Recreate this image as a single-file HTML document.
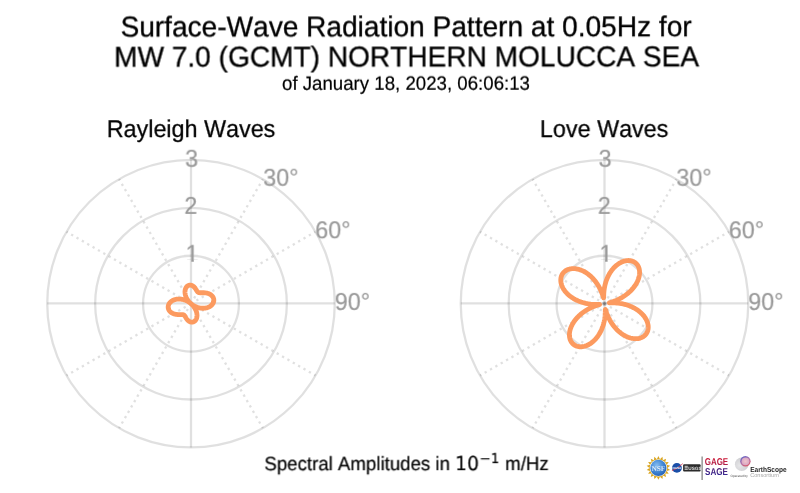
<!DOCTYPE html>
<html lang="en">
<head>
<meta charset="utf-8">
<title>Surface-Wave Radiation Pattern</title>
<style>
html,body{margin:0;padding:0;background:#fff;}
body{width:800px;height:493px;overflow:hidden;}
svg{display:block;}
text{font-family:"Liberation Sans",Arial,Helvetica,sans-serif;font-kerning:none;text-rendering:geometricPrecision;}
.title{font-size:28.085px;fill:#000;stroke:#000;stroke-width:0.3px;}
.sub{font-size:18.67px;fill:#000;stroke:#000;stroke-width:0.2px;}
.facet{font-size:23.33px;fill:#000;stroke:#000;stroke-width:0.25px;}
.tick text{font-size:23.33px;stroke:#999999;stroke-width:0.2px;}
.math{font-family:"DejaVu Sans",sans-serif;}
.title,.sub,.facet,.tick text{filter:blur(0.3px);}
#logos{filter:blur(0.4px);}
</style>
</head>
<body>
<svg width="800" height="493" viewBox="0 0 800 493">
<rect width="800" height="493" fill="#fff"/>
<text class="title" transform="translate(406.10,36.35) rotate(-0.03) scale(1,1.02)" text-anchor="middle">Surface-Wave Radiation Pattern at 0.05Hz for</text>
<text class="title" transform="translate(406.60,66.45) rotate(-0.03) scale(1,1.02)" text-anchor="middle">MW 7.0 (GCMT) NORTHERN MOLUCCA SEA</text>
<text class="sub" transform="translate(406.00,89.80) rotate(-0.03) scale(1,1.04)" text-anchor="middle">of January 18, 2023, 06:06:13</text>
<text class="facet" transform="translate(191.10,137.00) rotate(-0.03) scale(1,1.04)" text-anchor="middle">Rayleigh Waves</text>
<text class="facet" transform="translate(604.20,137.00) rotate(-0.03) scale(1,1.04)" text-anchor="middle">Love Waves</text>
<g fill="none" stroke="#000" stroke-opacity="0.12" stroke-width="2.3">
<circle cx="191.0" cy="303.65" r="47.92"/>
<circle cx="191.0" cy="303.65" r="95.83"/>
<circle cx="191.0" cy="303.65" r="143.75"/>
<line x1="191.0" y1="159.90" x2="191.0" y2="447.40"/>
<line x1="47.25" y1="303.40" x2="334.75" y2="303.40"/>
</g>
<g fill="none" stroke="#000" stroke-opacity="0.12" stroke-width="2.33" stroke-dasharray="2.33 3.855">
<line x1="191.0" y1="303.65" x2="262.88" y2="179.16"/>
<line x1="191.0" y1="303.65" x2="315.49" y2="231.77"/>
<line x1="191.0" y1="303.65" x2="315.49" y2="375.52"/>
<line x1="191.0" y1="303.65" x2="262.88" y2="428.14"/>
<line x1="191.0" y1="303.65" x2="119.12" y2="428.14"/>
<line x1="191.0" y1="303.65" x2="66.51" y2="375.53"/>
<line x1="191.0" y1="303.65" x2="66.51" y2="231.77"/>
<line x1="191.0" y1="303.65" x2="119.12" y2="179.16"/>
</g>
<path d="M191.00,285.23 L191.32,285.30 L191.64,285.39 L191.95,285.51 L192.26,285.65 L192.56,285.80 L192.86,285.98 L193.15,286.17 L193.43,286.38 L193.70,286.60 L193.96,286.83 L194.22,287.08 L194.47,287.34 L194.70,287.61 L194.93,287.89 L195.15,288.17 L195.36,288.46 L195.55,288.75 L195.75,289.04 L195.93,289.34 L196.11,289.62 L196.28,289.91 L196.44,290.19 L196.60,290.45 L196.76,290.71 L196.92,290.96 L197.07,291.20 L197.23,291.42 L197.39,291.62 L197.56,291.81 L197.74,291.98 L197.92,292.14 L198.11,292.27 L198.31,292.39 L198.53,292.49 L198.76,292.57 L199.00,292.63 L199.26,292.68 L199.54,292.72 L199.83,292.74 L200.14,292.76 L200.46,292.76 L200.80,292.76 L201.16,292.76 L201.53,292.75 L201.91,292.74 L202.30,292.73 L202.71,292.73 L203.13,292.73 L203.56,292.74 L203.99,292.75 L204.43,292.77 L204.88,292.81 L205.33,292.85 L205.78,292.91 L206.23,292.99 L206.68,293.07 L207.13,293.17 L207.58,293.29 L208.02,293.43 L208.45,293.58 L208.88,293.74 L209.29,293.92 L209.70,294.12 L210.09,294.34 L210.47,294.57 L210.83,294.82 L211.18,295.08 L211.51,295.36 L211.82,295.66 L212.12,295.96 L212.39,296.28 L212.64,296.62 L212.87,296.96 L213.08,297.32 L213.26,297.68 L213.42,298.06 L213.55,298.44 L213.66,298.83 L213.74,299.23 L213.80,299.63 L213.82,300.04 L213.82,300.44 L213.79,300.85 L213.74,301.26 L213.65,301.67 L213.54,302.07 L213.40,302.48 L213.24,302.87 L213.04,303.27 L212.82,303.65 L212.57,304.03 L212.29,304.39 L211.99,304.75 L211.66,305.09 L211.31,305.43 L210.93,305.75 L210.53,306.05 L210.11,306.34 L209.66,306.61 L209.20,306.86 L208.71,307.09 L208.21,307.31 L207.68,307.50 L207.14,307.67 L206.59,307.83 L206.01,307.96 L205.43,308.06 L204.83,308.14 L204.23,308.20 L203.61,308.24 L202.98,308.25 L202.35,308.24 L201.71,308.20 L201.07,308.13 L200.43,308.05 L199.78,307.93 L199.13,307.79 L198.49,307.63 L197.84,307.44 L197.20,307.23 L196.57,306.99 L195.94,306.74 L195.32,306.45 L194.71,306.15 L194.11,305.82 L193.52,305.48 L192.94,305.11 L192.38,304.73 L191.83,304.32 L191.30,303.90 L191.24,303.86 L191.73,304.30 L192.20,304.77 L192.66,305.26 L193.10,305.75 L193.52,306.26 L193.92,306.78 L194.29,307.31 L194.64,307.84 L194.97,308.38 L195.27,308.93 L195.55,309.48 L195.81,310.03 L196.04,310.59 L196.25,311.14 L196.43,311.70 L196.58,312.25 L196.71,312.79 L196.82,313.33 L196.90,313.87 L196.96,314.40 L196.99,314.92 L197.00,315.42 L196.99,315.92 L196.95,316.41 L196.89,316.88 L196.81,317.33 L196.71,317.77 L196.58,318.20 L196.44,318.60 L196.28,318.99 L196.10,319.36 L195.91,319.70 L195.70,320.03 L195.47,320.34 L195.23,320.62 L194.98,320.88 L194.71,321.11 L194.44,321.33 L194.15,321.52 L193.86,321.68 L193.55,321.82 L193.25,321.94 L192.93,322.03 L192.61,322.10 L192.29,322.14 L191.97,322.16 L191.65,322.15 L191.32,322.13 L191.00,322.07 L190.68,322.00 L190.36,321.91 L190.05,321.79 L189.74,321.65 L189.44,321.50 L189.14,321.32 L188.85,321.13 L188.57,320.92 L188.30,320.70 L188.04,320.47 L187.78,320.22 L187.53,319.96 L187.30,319.69 L187.07,319.41 L186.85,319.13 L186.64,318.84 L186.45,318.55 L186.25,318.26 L186.07,317.96 L185.89,317.68 L185.72,317.39 L185.56,317.11 L185.40,316.85 L185.24,316.59 L185.08,316.34 L184.93,316.10 L184.77,315.88 L184.61,315.68 L184.44,315.49 L184.26,315.32 L184.08,315.16 L183.89,315.03 L183.69,314.91 L183.47,314.81 L183.24,314.73 L183.00,314.67 L182.74,314.62 L182.46,314.58 L182.17,314.56 L181.86,314.54 L181.54,314.54 L181.20,314.54 L180.84,314.54 L180.47,314.55 L180.09,314.56 L179.70,314.57 L179.29,314.57 L178.87,314.57 L178.44,314.56 L178.01,314.55 L177.57,314.53 L177.12,314.49 L176.67,314.45 L176.22,314.39 L175.77,314.31 L175.32,314.23 L174.87,314.13 L174.42,314.01 L173.98,313.87 L173.55,313.72 L173.12,313.56 L172.71,313.38 L172.30,313.18 L171.91,312.96 L171.53,312.73 L171.17,312.48 L170.82,312.22 L170.49,311.94 L170.18,311.64 L169.88,311.34 L169.61,311.02 L169.36,310.68 L169.13,310.34 L168.92,309.98 L168.74,309.62 L168.58,309.24 L168.45,308.86 L168.34,308.47 L168.26,308.07 L168.20,307.67 L168.18,307.26 L168.18,306.86 L168.21,306.45 L168.26,306.04 L168.35,305.63 L168.46,305.23 L168.60,304.82 L168.76,304.43 L168.96,304.03 L169.18,303.65 L169.43,303.27 L169.71,302.91 L170.01,302.55 L170.34,302.21 L170.69,301.87 L171.07,301.55 L171.47,301.25 L171.89,300.96 L172.34,300.69 L172.80,300.44 L173.29,300.21 L173.79,299.99 L174.32,299.80 L174.86,299.63 L175.41,299.47 L175.99,299.34 L176.57,299.24 L177.17,299.16 L177.77,299.10 L178.39,299.06 L179.02,299.05 L179.65,299.06 L180.29,299.10 L180.93,299.17 L181.57,299.25 L182.22,299.37 L182.87,299.51 L183.51,299.67 L184.16,299.86 L184.80,300.07 L185.43,300.31 L186.06,300.56 L186.68,300.85 L187.29,301.15 L187.89,301.48 L188.48,301.82 L189.06,302.19 L189.62,302.57 L190.17,302.98 L190.70,303.40 L190.76,303.44 L190.27,303.00 L189.80,302.53 L189.34,302.04 L188.90,301.55 L188.48,301.04 L188.08,300.52 L187.71,299.99 L187.36,299.46 L187.03,298.92 L186.73,298.37 L186.45,297.82 L186.19,297.27 L185.96,296.71 L185.75,296.16 L185.57,295.60 L185.42,295.05 L185.29,294.51 L185.18,293.97 L185.10,293.43 L185.04,292.90 L185.01,292.38 L185.00,291.88 L185.01,291.38 L185.05,290.89 L185.11,290.42 L185.19,289.97 L185.29,289.53 L185.42,289.10 L185.56,288.70 L185.72,288.31 L185.90,287.94 L186.09,287.60 L186.30,287.27 L186.53,286.96 L186.77,286.68 L187.02,286.42 L187.29,286.19 L187.56,285.97 L187.85,285.78 L188.14,285.62 L188.45,285.48 L188.75,285.36 L189.07,285.27 L189.39,285.20 L189.71,285.16 L190.03,285.14 L190.35,285.15 L190.68,285.17 Z" fill="none" stroke="#fc9a5f" stroke-width="4.8" stroke-linejoin="round"/>
<g class="tick" fill="#999999">
<clipPath id="c1_191"><path d="M180.15,237.73 H204.15 V259.65 H193.82 V262.73 H191.27 V259.65 H180.15 Z"/></clipPath>
<g clip-path="url(#c1_191)"><text class="" transform="translate(192.15,261.73) rotate(-0.03) scale(1,1.045)" text-anchor="middle">1</text></g>
<text class="" transform="translate(190.85,213.87) rotate(-0.03) scale(1,1.045)" text-anchor="middle">2</text>
<text class="" transform="translate(191.65,166.75) rotate(-0.03) scale(1,1.045)" text-anchor="middle">3</text>
<text class="" transform="translate(263.27,185.76) rotate(-0.03) scale(1,1.045)" text-anchor="start">30°</text>
<text class="" transform="translate(315.29,238.22) rotate(-0.03) scale(1,1.045)" text-anchor="start">60°</text>
<text class="" transform="translate(334.75,309.90) rotate(-0.03) scale(1,1.045)" text-anchor="start">90°</text>
</g>
<g fill="none" stroke="#000" stroke-opacity="0.12" stroke-width="2.3">
<circle cx="604.5" cy="303.65" r="47.92"/>
<circle cx="604.5" cy="303.65" r="95.83"/>
<circle cx="604.5" cy="303.65" r="143.75"/>
<line x1="604.5" y1="159.90" x2="604.5" y2="447.40"/>
<line x1="460.75" y1="303.40" x2="748.25" y2="303.40"/>
</g>
<g fill="none" stroke="#000" stroke-opacity="0.12" stroke-width="2.33" stroke-dasharray="2.33 3.855">
<line x1="604.5" y1="303.65" x2="676.38" y2="179.16"/>
<line x1="604.5" y1="303.65" x2="728.99" y2="231.77"/>
<line x1="604.5" y1="303.65" x2="728.99" y2="375.52"/>
<line x1="604.5" y1="303.65" x2="676.38" y2="428.14"/>
<line x1="604.5" y1="303.65" x2="532.62" y2="428.14"/>
<line x1="604.5" y1="303.65" x2="480.01" y2="375.53"/>
<line x1="604.5" y1="303.65" x2="480.01" y2="231.77"/>
<line x1="604.5" y1="303.65" x2="532.62" y2="179.16"/>
</g>
<path d="M604.50,287.43 L604.81,285.87 L605.17,284.32 L605.59,282.79 L606.06,281.28 L606.59,279.81 L607.16,278.36 L607.78,276.96 L608.44,275.59 L609.15,274.27 L609.90,273.00 L610.70,271.77 L611.52,270.60 L612.39,269.49 L613.28,268.43 L614.20,267.43 L615.15,266.50 L616.13,265.63 L617.12,264.82 L618.13,264.08 L619.15,263.40 L620.18,262.80 L621.22,262.26 L622.27,261.80 L623.31,261.40 L624.35,261.08 L625.38,260.83 L626.41,260.65 L627.42,260.55 L628.41,260.51 L629.38,260.55 L630.33,260.66 L631.25,260.84 L632.14,261.09 L632.99,261.41 L633.81,261.79 L634.58,262.24 L635.31,262.76 L636.00,263.34 L636.63,263.98 L637.20,264.67 L637.73,265.43 L638.19,266.24 L638.59,267.09 L638.93,268.00 L639.20,268.95 L639.40,269.95 L639.53,270.98 L639.59,272.05 L639.58,273.15 L639.50,274.28 L639.34,275.44 L639.10,276.62 L638.79,277.81 L638.41,279.02 L637.94,280.23 L637.40,281.46 L636.79,282.68 L636.10,283.90 L635.34,285.12 L634.51,286.32 L633.61,287.51 L632.64,288.69 L631.61,289.84 L630.51,290.96 L629.35,292.06 L628.13,293.13 L626.86,294.16 L625.54,295.15 L624.17,296.10 L622.76,297.00 L621.32,297.86 L619.84,298.66 L618.35,299.42 L616.84,300.11 L615.33,300.75 L613.85,301.32 L612.43,301.82 L611.12,302.24 L610.04,302.57 L609.35,302.79 L609.24,302.90 L609.76,302.91 L610.75,302.88 L612.04,302.86 L613.49,302.86 L615.03,302.91 L616.62,303.01 L618.24,303.17 L619.86,303.38 L621.49,303.65 L623.10,303.97 L624.69,304.36 L626.27,304.79 L627.81,305.28 L629.32,305.82 L630.79,306.41 L632.22,307.05 L633.60,307.74 L634.94,308.47 L636.22,309.24 L637.45,310.06 L638.63,310.90 L639.74,311.79 L640.79,312.70 L641.78,313.64 L642.71,314.61 L643.56,315.59 L644.35,316.60 L645.07,317.62 L645.71,318.65 L646.29,319.69 L646.79,320.73 L647.21,321.78 L647.57,322.82 L647.84,323.86 L648.05,324.89 L648.18,325.91 L648.24,326.91 L648.22,327.89 L648.13,328.84 L647.97,329.77 L647.75,330.67 L647.45,331.54 L647.08,332.37 L646.65,333.16 L646.15,333.91 L645.60,334.62 L644.98,335.28 L644.31,335.88 L643.58,336.44 L642.79,336.94 L641.96,337.38 L641.08,337.76 L640.16,338.08 L639.19,338.34 L638.19,338.53 L637.15,338.66 L636.08,338.72 L634.98,338.71 L633.85,338.63 L632.71,338.48 L631.54,338.27 L630.37,337.98 L629.18,337.61 L627.98,337.18 L626.78,336.68 L625.58,336.11 L624.38,335.46 L623.19,334.75 L622.01,333.97 L620.84,333.13 L619.69,332.22 L618.56,331.24 L617.45,330.21 L616.38,329.12 L615.33,327.97 L614.31,326.77 L613.34,325.52 L612.40,324.23 L611.50,322.89 L610.65,321.52 L609.85,320.12 L609.10,318.69 L608.40,317.25 L607.76,315.82 L607.18,314.41 L606.67,313.05 L606.23,311.78 L605.87,310.69 L605.60,309.88 L605.42,309.48 L605.34,309.60 L605.30,310.20 L605.29,311.18 L605.27,312.40 L605.21,313.78 L605.11,315.25 L604.96,316.77 L604.76,318.31 L604.50,319.87 L604.19,321.43 L603.83,322.98 L603.41,324.51 L602.94,326.02 L602.41,327.49 L601.84,328.94 L601.22,330.34 L600.56,331.71 L599.85,333.03 L599.10,334.30 L598.30,335.53 L597.48,336.70 L596.61,337.81 L595.72,338.87 L594.80,339.87 L593.85,340.80 L592.87,341.67 L591.88,342.48 L590.87,343.22 L589.85,343.90 L588.82,344.50 L587.78,345.04 L586.73,345.50 L585.69,345.90 L584.65,346.22 L583.62,346.47 L582.59,346.65 L581.58,346.75 L580.59,346.79 L579.62,346.75 L578.67,346.64 L577.75,346.46 L576.86,346.21 L576.01,345.89 L575.19,345.51 L574.42,345.06 L573.69,344.54 L573.00,343.96 L572.37,343.32 L571.80,342.63 L571.27,341.87 L570.81,341.06 L570.41,340.21 L570.07,339.30 L569.80,338.35 L569.60,337.35 L569.47,336.32 L569.41,335.25 L569.42,334.15 L569.50,333.02 L569.66,331.86 L569.90,330.68 L570.21,329.49 L570.59,328.28 L571.06,327.07 L571.60,325.84 L572.21,324.62 L572.90,323.40 L573.66,322.18 L574.49,320.98 L575.39,319.79 L576.36,318.61 L577.39,317.46 L578.49,316.34 L579.65,315.24 L580.87,314.17 L582.14,313.14 L583.46,312.15 L584.83,311.20 L586.24,310.30 L587.68,309.44 L589.16,308.64 L590.65,307.88 L592.16,307.19 L593.67,306.55 L595.15,305.98 L596.57,305.48 L597.88,305.06 L598.96,304.73 L599.65,304.51 L599.76,304.40 L599.24,304.39 L598.25,304.42 L596.96,304.44 L595.51,304.44 L593.97,304.39 L592.38,304.29 L590.76,304.13 L589.14,303.92 L587.51,303.65 L585.90,303.33 L584.31,302.94 L582.73,302.51 L581.19,302.02 L579.68,301.48 L578.21,300.89 L576.78,300.25 L575.40,299.56 L574.06,298.83 L572.78,298.06 L571.55,297.24 L570.37,296.40 L569.26,295.51 L568.21,294.60 L567.22,293.66 L566.29,292.69 L565.44,291.71 L564.65,290.70 L563.93,289.68 L563.29,288.65 L562.71,287.61 L562.21,286.57 L561.79,285.52 L561.43,284.48 L561.16,283.44 L560.95,282.41 L560.82,281.39 L560.76,280.39 L560.78,279.41 L560.87,278.46 L561.03,277.53 L561.25,276.63 L561.55,275.76 L561.92,274.93 L562.35,274.14 L562.85,273.39 L563.40,272.68 L564.02,272.02 L564.69,271.42 L565.42,270.86 L566.21,270.36 L567.04,269.92 L567.92,269.54 L568.84,269.22 L569.81,268.96 L570.81,268.77 L571.85,268.64 L572.92,268.58 L574.02,268.59 L575.15,268.67 L576.29,268.82 L577.46,269.03 L578.63,269.32 L579.82,269.69 L581.02,270.12 L582.22,270.62 L583.42,271.19 L584.62,271.84 L585.81,272.55 L586.99,273.33 L588.16,274.17 L589.31,275.08 L590.44,276.06 L591.55,277.09 L592.62,278.18 L593.67,279.33 L594.69,280.53 L595.66,281.78 L596.60,283.07 L597.50,284.41 L598.35,285.78 L599.15,287.18 L599.90,288.61 L600.60,290.05 L601.24,291.48 L601.82,292.89 L602.33,294.25 L602.77,295.52 L603.13,296.61 L603.40,297.42 L603.58,297.82 L603.66,297.70 L603.70,297.10 L603.71,296.12 L603.73,294.90 L603.79,293.52 L603.89,292.05 L604.04,290.53 L604.24,288.99 Z" fill="none" stroke="#fc9a5f" stroke-width="4.8" stroke-linejoin="round"/>
<g class="tick" fill="#999999">
<clipPath id="c1_604"><path d="M593.95,237.73 H617.95 V259.65 H607.62 V262.73 H605.07 V259.65 H593.95 Z"/></clipPath>
<g clip-path="url(#c1_604)"><text class="" transform="translate(605.95,261.73) rotate(-0.03) scale(1,1.045)" text-anchor="middle">1</text></g>
<text class="" transform="translate(604.35,213.87) rotate(-0.03) scale(1,1.045)" text-anchor="middle">2</text>
<text class="" transform="translate(605.15,166.75) rotate(-0.03) scale(1,1.045)" text-anchor="middle">3</text>
<text class="" transform="translate(676.38,185.76) rotate(-0.03) scale(1,1.045)" text-anchor="start">30°</text>
<text class="" transform="translate(728.79,238.22) rotate(-0.03) scale(1,1.045)" text-anchor="start">60°</text>
<text class="" transform="translate(748.25,309.90) rotate(-0.03) scale(1,1.045)" text-anchor="start">90°</text>
</g>
<text class="sub" transform="translate(264.4,470.3) rotate(-0.03) scale(1,1.04)">Spectral Amplitudes in <tspan class="math">10</tspan><tspan class="math" font-size="13.3px" dx="0.8" dy="-6.8">−1</tspan><tspan dx="0.7" dy="6.8"> m/Hz</tspan></text>
<defs>
<radialGradient id="nsfG" cx="0.4" cy="0.35" r="0.75"><stop offset="0" stop-color="#86bdf0"/><stop offset="0.6" stop-color="#3a80d0"/><stop offset="1" stop-color="#2459ac"/></radialGradient>
<linearGradient id="gageG" x1="0" y1="0" x2="0" y2="1"><stop offset="0" stop-color="#d2122e"/><stop offset="1" stop-color="#a8234f"/></linearGradient>
<linearGradient id="sageG" x1="0" y1="0" x2="0" y2="1"><stop offset="0" stop-color="#5a1f6e"/><stop offset="1" stop-color="#2f2a9a"/></linearGradient>
<radialGradient id="esGray" cx="0.35" cy="0.6" r="0.8"><stop offset="0" stop-color="#e6e6e8"/><stop offset="1" stop-color="#c6c6ca"/></radialGradient>
<linearGradient id="esRing" x1="0.2" y1="0" x2="0.8" y2="1"><stop offset="0" stop-color="#5a62c8"/><stop offset="0.5" stop-color="#b070a8"/><stop offset="1" stop-color="#e0525a"/></linearGradient>
<radialGradient id="esIn" cx="0.5" cy="0.5" r="0.6"><stop offset="0" stop-color="#f0c4cc"/><stop offset="1" stop-color="#d4a0c0"/></radialGradient>
</defs>
<g id="logos">
<polygon points="658.40,456.00 659.95,459.14 662.47,456.72 662.85,460.19 666.05,458.78 665.22,462.18 668.71,461.95 666.76,464.86 670.12,465.83 667.30,467.90 670.12,469.97 666.76,470.94 668.71,473.85 665.22,473.62 666.05,477.02 662.85,475.61 662.47,479.08 659.95,476.66 658.40,479.80 656.85,476.66 654.33,479.08 653.95,475.61 650.75,477.02 651.58,473.62 648.09,473.85 650.04,470.94 646.68,469.97 649.50,467.90 646.68,465.83 650.04,464.86 648.09,461.95 651.58,462.18 650.75,458.78 653.95,460.19 654.33,456.72 656.85,459.14" fill="#d9a520"/>
<circle cx="658.4" cy="467.9" r="8.7" fill="#fff"/>
<circle cx="658.4" cy="467.9" r="8.1" fill="url(#nsfG)"/>
<text x="658.4" y="470.5" text-anchor="middle" style="font-family:'Liberation Serif',serif;font-weight:bold;font-size:7.4px;fill:#fff;fill-opacity:0.8">NSF</text>
<circle cx="676.9" cy="467.9" r="4.9" fill="#1a4fa8"/>
<path d="M672.3,470.5 Q677.4,469.09999999999997 682.5,463.9" fill="none" stroke="#e03a4a" stroke-width="0.8" stroke-linecap="round"/>
<text x="676.9" y="469.0" text-anchor="middle" style="font-family:'Liberation Sans',sans-serif;font-weight:bold;font-size:3.1px;fill:#fff">NASA</text>
<rect x="683.1" y="464.2" width="17.5" height="7.2" rx="1" fill="#2b2b2b"/>
<path d="M684.6,466.3 h3.2 M684.6,467.8 h3.2 M684.6,469.3 h3.2" stroke="#fff" stroke-width="0.8" fill="none"/>
<text x="695.0" y="469.6" text-anchor="middle" style="font-family:'Liberation Sans',sans-serif;font-weight:bold;font-size:4.7px;fill:#fff;fill-opacity:0.85">USGS</text>
<line x1="702.1" y1="456.4" x2="702.1" y2="479.9" stroke="#6a6a6a" stroke-width="1.05"/>
<text transform="translate(704.7,464.9) scale(0.868,1.08)" style="font-family:'Liberation Sans',sans-serif;font-weight:bold;font-size:9.2px" fill="url(#gageG)">GAGE</text>
<text transform="translate(705.1,475.0) scale(0.878,1.08)" style="font-family:'Liberation Sans',sans-serif;font-weight:bold;font-size:9.2px" fill="url(#sageG)">SAGE</text>
<circle cx="741.7" cy="464.2" r="6.8" fill="url(#esGray)"/>
<circle cx="745.4" cy="461.2" r="5.2" fill="url(#esRing)"/>
<circle cx="745.5" cy="461.3" r="3.9" fill="url(#esIn)"/>
<text transform="translate(750.2,471.7) scale(0.9,1)" style="font-family:'Liberation Sans',sans-serif;font-weight:bold;font-size:7.3px;fill:#1e1e1e">EarthScope</text>
<text transform="translate(750.2,477.0)" style="font-family:'Liberation Sans',sans-serif;font-size:5.6px;fill:#a8a8a8">Consortium</text>
<text transform="translate(730.4,476.9)" style="font-family:'Liberation Sans',sans-serif;font-size:3.2px;fill:#555">Operated by</text>
</g>
</svg>
</body>
</html>
